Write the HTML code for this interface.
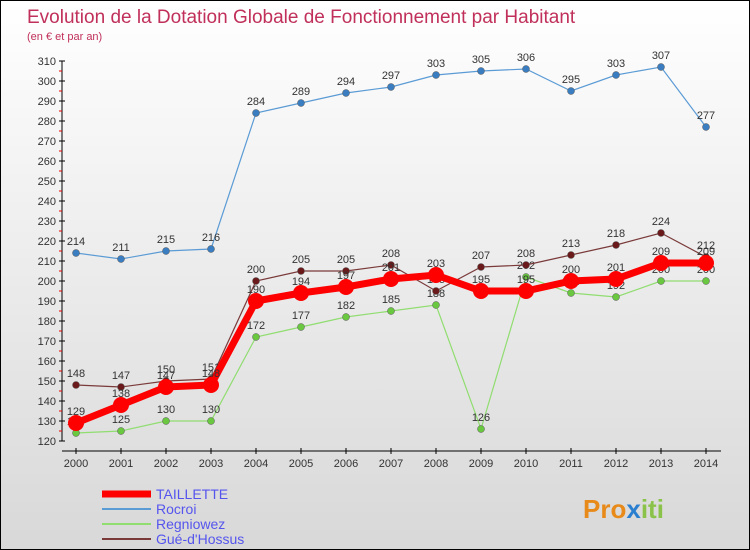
<!DOCTYPE html>
<html><head><meta charset="utf-8"><style>
body{margin:0}
#c{width:750px;height:550px;position:relative;overflow:hidden;background:linear-gradient(#fff,#d8d8d8);font-family:"Liberation Sans",sans-serif;box-sizing:border-box;border:1px solid #000}
</style></head><body>
<div id="c">
<svg id="s" width="750" height="550" style="position:absolute;left:0;top:0">
<text x="26" y="22" font-size="19" fill="#c0305a">Evolution de la Dotation Globale de Fonctionnement par Habitant</text>
<text x="26" y="39" font-size="11" fill="#c0305a">(en € et par an)</text>
<g id="ax"></g><g id="ser"></g><g id="lg"></g>
<text x="582" y="517" font-size="26" font-weight="bold" fill="#e88a1a">Pro<tspan fill="#2a7fd0">x</tspan><tspan fill="#8bc34a">iti</tspan></text>
</svg></div>
<script>
const years=[2000,2001,2002,2003,2004,2005,2006,2007,2008,2009,2010,2011,2012,2013,2014];
const yTicks=[120,130,140,150,160,170,180,190,200,210,220,230,240,250,260,270,280,290,300,310];
const taillette=[129,138,147,148,190,194,197,201,203,195,195,200,201,209,209];
const rocroi=[214,211,215,216,284,289,294,297,303,305,306,295,303,307,277];
const regniowez=[124,125,130,130,172,177,182,185,188,126,202,194,192,200,200];
const gue=[148,147,150,151,200,205,205,208,195,207,208,213,218,224,212];
const NS="http://www.w3.org/2000/svg";
const X=i=>75+i*45, Y=v=>440-(v-120)*2;
function mk(t,a,p){const e=document.createElementNS(NS,t);for(const k in a)e.setAttribute(k,a[k]);(p||document.getElementById('ser')).appendChild(e);return e;}
const ax=document.getElementById('ax');
let e=mk('line',{x1:61,y1:Y(310),x2:61,y2:Y(120),stroke:'#000'},ax);

e=mk('line',{x1:61,y1:450,x2:720,y2:450,stroke:'#000'},ax);

yTicks.forEach(v=>{mk('line',{x1:58,x2:64,y1:Y(v),y2:Y(v),stroke:'#000'},ax);
if(v<310)mk('line',{x1:58,x2:61,y1:Y(v+5),y2:Y(v+5),stroke:'#e00'},ax);
const t=mk('text',{x:55,y:Y(v)+4,'font-size':11,'text-anchor':'end',fill:'#333'},ax);t.textContent=v;
});
years.forEach((y,i)=>{mk('line',{x1:X(i),x2:X(i),y1:447,y2:453,stroke:'#000'},ax);
const t=mk('text',{x:X(i),y:466,'font-size':11,'text-anchor':'middle',fill:'#333'},ax);t.textContent=y;
});
const series=[['rocroi',rocroi,'#5b9bd5',1.2,3.5,'#3a7dc0'],['regniowez',regniowez,'#90dd70',1.2,3.5,'#6ac840'],['gue',gue,'#7a3a3a',1.2,3.5,'#6a1a1a'],['taillette',taillette,'#f00',7,8,'#f00']];
series.forEach(([n,d,c,w,r,fc])=>{
const p=mk('polyline',{points:d.map((v,i)=>X(i)+','+Y(v)).join(' '),fill:'none',stroke:c,'stroke-width':w});

d.forEach((v,i)=>{const m=mk('circle',{cx:X(i),cy:Y(v),r:r,fill:fc,stroke:n=='taillette'?'none':'#555','stroke-width':0.5});

const t=mk('text',{x:X(i),y:Y(v)-8,'font-size':11,'text-anchor':'middle',fill:'#333'});t.textContent=v;
});});
const lg=document.getElementById('lg');
[['TAILLETTE','#f00',7],['Rocroi','#5b9bd5',2],['Regniowez','#90dd70',2],['Gué-d\'Hossus','#7a3a3a',2]].forEach(([n,c,w],i)=>{
const yy=493+i*15;
let l=mk('line',{x1:101,x2:150,y1:yy,y2:yy,stroke:c,'stroke-width':w},lg);

const t=mk('text',{x:155,y:yy+5,'font-size':14,fill:'#5555ee'},lg);t.textContent=n;
});
</script>
</body></html>
